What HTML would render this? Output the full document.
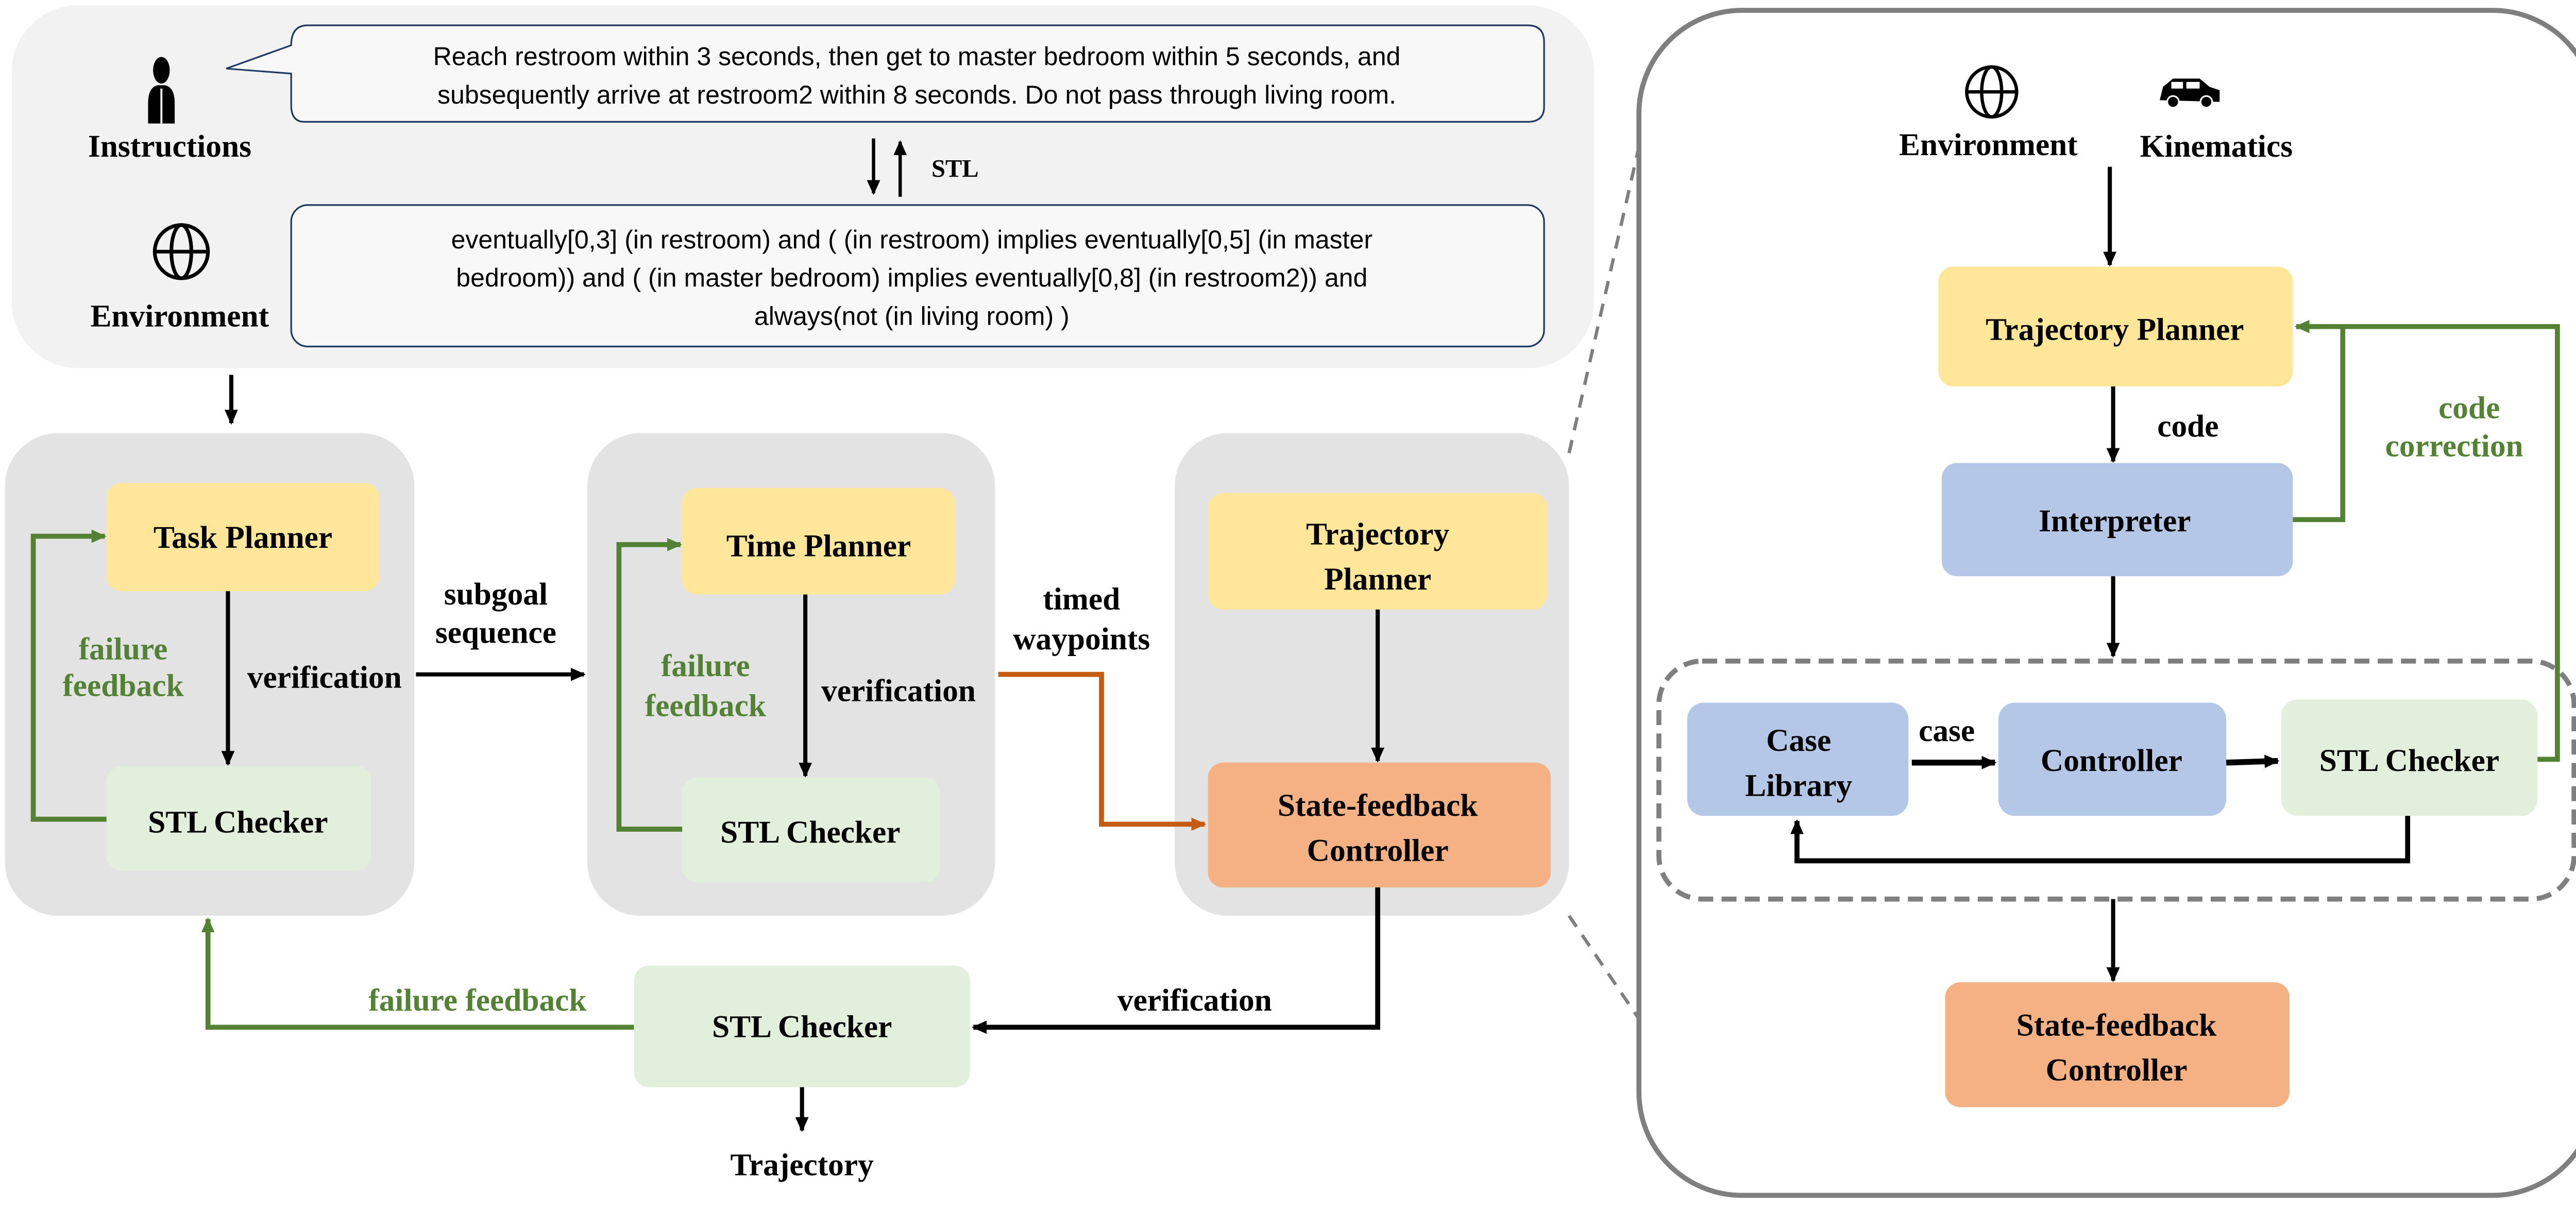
<!DOCTYPE html>
<html><head><meta charset="utf-8"><style>
html,body{margin:0;padding:0;background:#fff;}
svg{display:block;}
.b{font-family:"Liberation Serif",serif;font-weight:bold;font-size:19px;text-anchor:middle;fill:#000;}
.s{font-family:"Liberation Sans",sans-serif;font-size:15.5px;text-anchor:middle;fill:#000;}
.g{fill:#548235;}
</style></head><body>
<svg width="5064" height="2346" viewBox="0 0 1568 726" xmlns="http://www.w3.org/2000/svg">
<defs>
<marker id="ak" markerWidth="10" markerHeight="10" refX="8" refY="5" orient="auto" markerUnits="userSpaceOnUse"><path d="M0,1 L9,5 L0,9 Z" fill="#000"/></marker>
<marker id="ag" markerWidth="10" markerHeight="10" refX="8" refY="5" orient="auto" markerUnits="userSpaceOnUse"><path d="M0,1 L9,5 L0,9 Z" fill="#548235"/></marker>
<marker id="ao" markerWidth="10" markerHeight="10" refX="8" refY="5" orient="auto" markerUnits="userSpaceOnUse"><path d="M0,1 L9,5 L0,9 Z" fill="#c55a11"/></marker>
</defs>
<!-- top panel -->
<rect x="7" y="3" width="951" height="218" rx="40" fill="#f2f2f2"/>
<ellipse cx="97" cy="42" rx="5" ry="8" fill="#000"/>
<path d="M89,62 Q89,52 95,51 L99,51 Q105,52 105,62 L105,74 L89,74 Z" fill="#000"/>
<line x1="97" y1="53" x2="97" y2="74" stroke="#f2f2f2" stroke-width="1.2"/>
<text class="b" x="102" y="94">Instructions</text>
<path d="M185,15 L918,15 Q928,15 928,25 L928,64 Q928,73 918,73 L183,73 Q175,73 175,63 L175,44 L136,41 L175,27 Q175,15 185,15 Z" fill="#f8f8f8" stroke="#1f3864" stroke-width="1"/>
<text class="s" x="551" y="39">Reach restroom within 3 seconds, then get to master bedroom within 5 seconds, and</text>
<text class="s" x="551" y="62">subsequently arrive at restroom2 within 8 seconds. Do not pass through living room.</text>
<line x1="525" y1="83" x2="525" y2="116" stroke="#000" stroke-width="2" marker-end="url(#ak)"/>
<line x1="541" y1="118" x2="541" y2="85" stroke="#000" stroke-width="2" marker-end="url(#ak)"/>
<text class="b" x="574" y="106" style="font-size:15px">STL</text>
<rect x="175" y="123" width="753" height="85" rx="10" fill="#f8f8f8" stroke="#1f3864" stroke-width="1"/>
<text class="s" x="548" y="149">eventually[0,3] (in restroom) and ( (in restroom) implies eventually[0,5] (in master</text>
<text class="s" x="548" y="172">bedroom)) and ( (in master bedroom) implies eventually[0,8] (in restroom2)) and</text>
<text class="s" x="548" y="195">always(not (in living room) )</text>
<g fill="none" stroke="#000" stroke-width="2.2">
<ellipse cx="109" cy="151" rx="16" ry="16"/><ellipse cx="109" cy="151" rx="6" ry="16"/><line x1="93" y1="151" x2="125" y2="151"/>
</g>
<text class="b" x="108" y="196">Environment</text>
<line x1="139" y1="225" x2="139" y2="254" stroke="#000" stroke-width="2.5" marker-end="url(#ak)"/>

<!-- panel 1 -->
<rect x="3" y="260" width="246" height="290" rx="32" fill="#e3e3e3"/>
<rect x="64" y="290" width="164" height="65" rx="9" fill="#ffe699"/>
<text class="b" x="146" y="329">Task Planner</text>
<line x1="137" y1="355" x2="137" y2="459" stroke="#000" stroke-width="2.5" marker-end="url(#ak)"/>
<text class="b" x="195" y="413">verification</text>
<rect x="64" y="460" width="159" height="63" rx="9" fill="#e2efda"/>
<text class="b" x="143" y="500">STL Checker</text>
<polyline points="64,492 20,492 20,322 63,322" fill="none" stroke="#548235" stroke-width="3" marker-end="url(#ag)"/>
<text class="b g" x="74" y="396">failure</text>
<text class="b g" x="74" y="418">feedback</text>
<line x1="250" y1="405" x2="351" y2="405" stroke="#000" stroke-width="2.5" marker-end="url(#ak)"/>
<text class="b" x="298" y="363">subgoal</text>
<text class="b" x="298" y="386">sequence</text>

<!-- panel 2 -->
<rect x="353" y="260" width="245" height="290" rx="32" fill="#e3e3e3"/>
<rect x="410" y="293" width="164" height="64" rx="9" fill="#ffe699"/>
<text class="b" x="492" y="334">Time Planner</text>
<line x1="484" y1="357" x2="484" y2="466" stroke="#000" stroke-width="2.5" marker-end="url(#ak)"/>
<text class="b" x="540" y="421">verification</text>
<rect x="410" y="467" width="155" height="63" rx="9" fill="#e2efda"/>
<text class="b" x="487" y="506">STL Checker</text>
<polyline points="410,498 372,498 372,327 409,327" fill="none" stroke="#548235" stroke-width="3" marker-end="url(#ag)"/>
<text class="b g" x="424" y="406">failure</text>
<text class="b g" x="424" y="430">feedback</text>
<text class="b" x="650" y="366">timed</text>
<text class="b" x="650" y="390">waypoints</text>

<!-- panel 3 -->
<rect x="706" y="260" width="237" height="290" rx="32" fill="#e3e3e3"/>
<rect x="726" y="296" width="204" height="70" rx="9" fill="#ffe699"/>
<text class="b" x="828" y="327">Trajectory</text>
<text class="b" x="828" y="354">Planner</text>
<line x1="828" y1="366" x2="828" y2="457" stroke="#000" stroke-width="2.5" marker-end="url(#ak)"/>
<rect x="726" y="458" width="206" height="75" rx="9" fill="#f4b183"/>
<text class="b" x="828" y="490">State-feedback</text>
<text class="b" x="828" y="517">Controller</text>
<polyline points="600,405 662,405 662,495 724,495" fill="none" stroke="#c55a11" stroke-width="3" marker-end="url(#ao)"/>
<polyline points="828,533 828,617 585,617" fill="none" stroke="#000" stroke-width="3" marker-end="url(#ak)"/>
<text class="b" x="718" y="607">verification</text>
<rect x="381" y="580" width="202" height="73" rx="9" fill="#e2efda"/>
<text class="b" x="482" y="623">STL Checker</text>
<polyline points="381,617 125,617 125,552" fill="none" stroke="#548235" stroke-width="3" marker-end="url(#ag)"/>
<text class="b g" x="287" y="607">failure feedback</text>
<line x1="482" y1="653" x2="482" y2="679" stroke="#000" stroke-width="2.5" marker-end="url(#ak)"/>
<text class="b" x="482" y="706">Trajectory</text>

<line x1="943" y1="272" x2="985" y2="88" stroke="#7f7f7f" stroke-width="2" stroke-dasharray="8,6"/>
<line x1="943" y1="550" x2="985" y2="612" stroke="#7f7f7f" stroke-width="2" stroke-dasharray="8,6"/>

<!-- right panel -->
<rect x="985" y="6" width="575" height="712" rx="62" fill="#fff" stroke="#7f7f7f" stroke-width="3"/>
<g fill="none" stroke="#000" stroke-width="2">
<ellipse cx="1197" cy="55" rx="15" ry="15"/><ellipse cx="1197" cy="55" rx="6" ry="15"/><line x1="1182" y1="55" x2="1212" y2="55"/>
</g>
<path d="M1298,60 L1300,52 L1306,47 L1322,47 L1328,52 L1334,54 L1334,61 Z" fill="#000"/>
<rect x="1305" y="49" width="7" height="4" fill="#fff"/><rect x="1314" y="49" width="8" height="4" fill="#fff"/>
<circle cx="1306" cy="61" r="3.5" fill="#000" stroke="#fff" stroke-width="1"/><circle cx="1326" cy="61" r="3.5" fill="#000" stroke="#fff" stroke-width="1"/>
<text class="b" x="1195" y="93">Environment</text>
<text class="b" x="1332" y="94">Kinematics</text>
<line x1="1268" y1="100" x2="1268" y2="159" stroke="#000" stroke-width="2.5" marker-end="url(#ak)"/>
<rect x="1165" y="160" width="213" height="72" rx="9" fill="#ffe699"/>
<text class="b" x="1271" y="204">Trajectory Planner</text>
<line x1="1270" y1="232" x2="1270" y2="277" stroke="#000" stroke-width="2.5" marker-end="url(#ak)"/>
<text class="b" x="1315" y="262">code</text>
<rect x="1167" y="278" width="211" height="68" rx="9" fill="#b4c7e7"/>
<text class="b" x="1271" y="319">Interpreter</text>
<polyline points="1378,312 1408,312 1408,196" fill="none" stroke="#548235" stroke-width="3"/>
<polyline points="1525,456 1537,456 1537,196 1380,196" fill="none" stroke="#548235" stroke-width="3" marker-end="url(#ag)"/>
<text class="b g" x="1484" y="251">code</text>
<text class="b g" x="1475" y="274">correction</text>
<line x1="1270" y1="346" x2="1270" y2="394" stroke="#000" stroke-width="2.5" marker-end="url(#ak)"/>
<rect x="997" y="397" width="550" height="143" rx="26" fill="none" stroke="#7f7f7f" stroke-width="3" stroke-dasharray="9,5"/>
<rect x="1014" y="422" width="133" height="68" rx="10" fill="#b4c7e7"/>
<text class="b" x="1081" y="451">Case</text>
<text class="b" x="1081" y="478">Library</text>
<line x1="1149" y1="458" x2="1199" y2="458" stroke="#000" stroke-width="3.5" marker-end="url(#ak)"/>
<text class="b" x="1170" y="445">case</text>
<rect x="1201" y="422" width="137" height="68" rx="10" fill="#b4c7e7"/>
<text class="b" x="1269" y="463">Controller</text>
<line x1="1338" y1="458" x2="1369" y2="457" stroke="#000" stroke-width="3.5" marker-end="url(#ak)"/>
<rect x="1371" y="420" width="154" height="70" rx="10" fill="#e2efda"/>
<text class="b" x="1448" y="463">STL Checker</text>
<polyline points="1447,490 1447,517 1080,517 1080,493" fill="none" stroke="#000" stroke-width="3" marker-end="url(#ak)"/>
<line x1="1270" y1="540" x2="1270" y2="589" stroke="#000" stroke-width="2.5" marker-end="url(#ak)"/>
<rect x="1169" y="590" width="207" height="75" rx="9" fill="#f4b183"/>
<text class="b" x="1272" y="622">State-feedback</text>
<text class="b" x="1272" y="649">Controller</text>
</svg>
</body></html>
